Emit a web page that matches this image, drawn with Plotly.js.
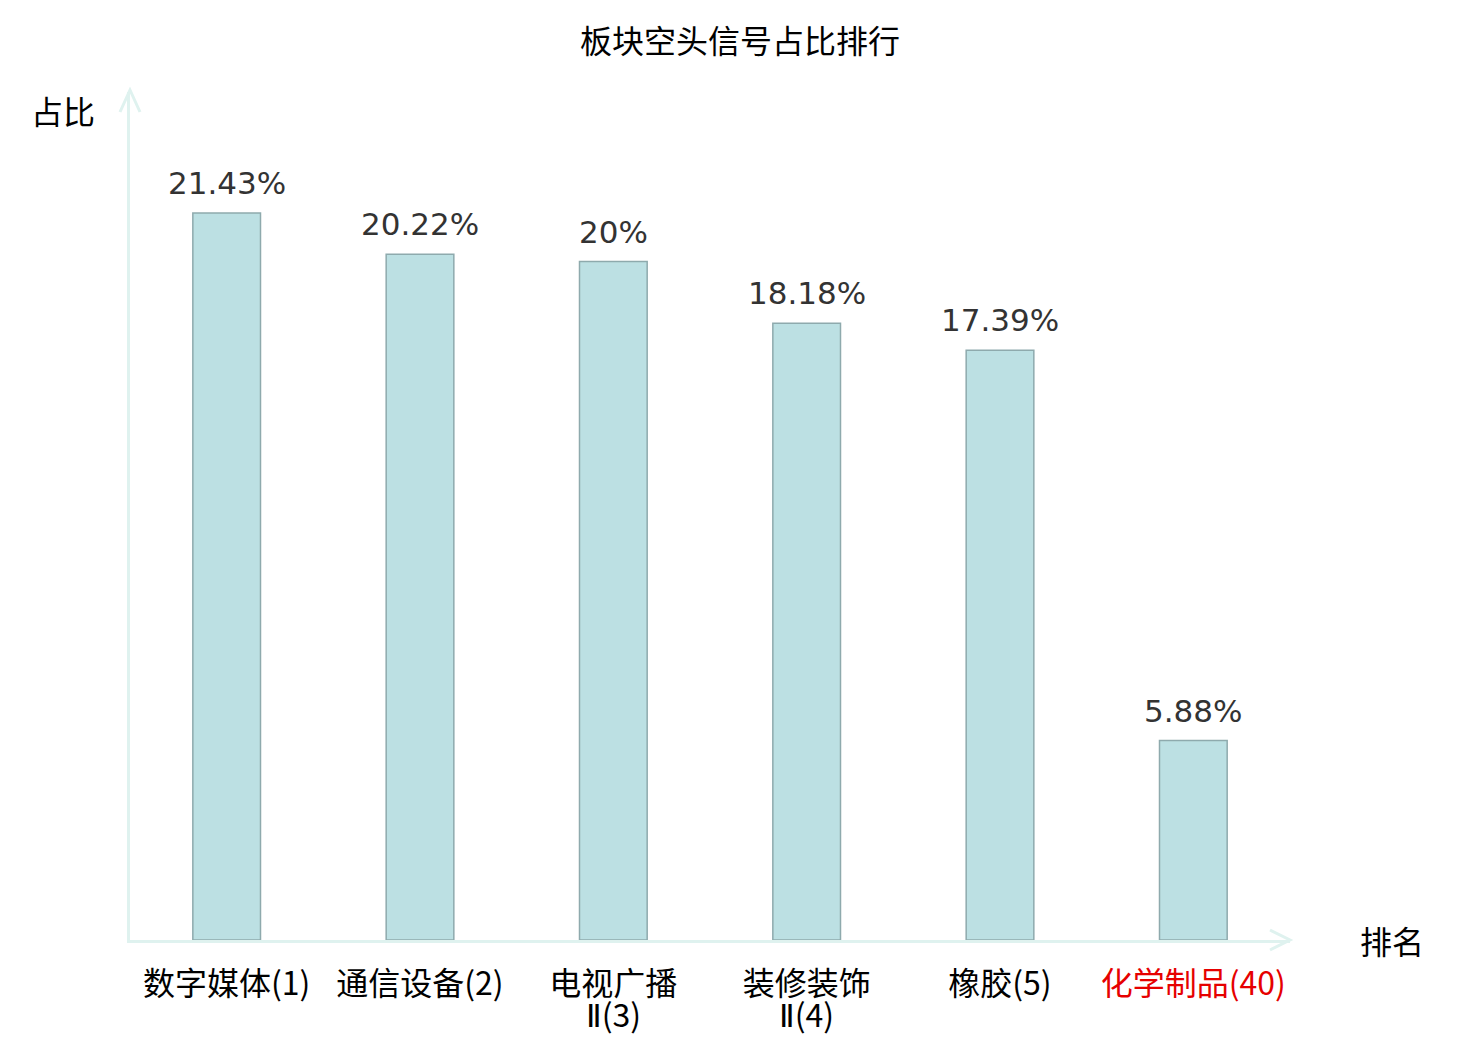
<!DOCTYPE html>
<html>
<head>
<meta charset="utf-8">
<script src="https://cdn.plot.ly/plotly-3.0.1.min.js"></script>
<style>
  html, body { margin: 0; padding: 0; background: #fff; }
  #chart { width: 1480px; height: 1040px; }
</style>
</head>
<body>
<div id="chart"></div>
<script>
const categories = ["数字媒体(1)", "通信设备(2)", "电视广播Ⅱ(3)", "装修装饰Ⅱ(4)", "橡胶(5)", "化学制品(40)"];
// tick labels, first and second line (the reference wraps with a tight line height)
const tickLine1 = ["数字媒体(1)", "通信设备(2)", "电视广播", "装修装饰", "橡胶(5)", "化学制品(40)"];
const tickLine2 = ["", "", "Ⅱ(3)", "Ⅱ(4)", "", ""];
const tickColors = ["#000000", "#000000", "#000000", "#000000", "#000000", "#e60000"];
const shares = [21.43, 20.22, 20, 18.18, 17.39, 5.88];

const axisColor = "#dff2ef";
const cjk = "'Noto Sans CJK SC', 'DejaVu Sans', sans-serif";
const latin = "'DejaVu Sans', 'Noto Sans CJK SC', sans-serif";

const trace_bars = {
    type: "bar",
    x: categories,
    y: shares,
    width: 0.35,
    marker: {
        color: "#bce0e3",
        line: { color: "#8eaaad", width: 1.5 },
    },
    hoverinfo: "skip",
};

// value labels above the bars
const valueLabels = categories.map((c, i) => ({
    text: shares[i] + "%",
    xref: "x", yref: "y",
    x: c, y: shares[i],
    xanchor: "center", yanchor: "middle",
    yshift: 30,
    showarrow: false,
    font: { family: latin, size: 31, color: "#333333" },
}));

// second lines of the wrapped tick labels
const secondLines = categories
    .map((c, i) => ({
        text: tickLine2[i].replace("Ⅱ", "<span style='font-family:DejaVu Sans'>Ⅱ</span>"),
        xref: "x", yref: "paper",
        x: c, y: 0,
        xanchor: "center", yanchor: "middle",
        yshift: -73,
        showarrow: false,
        font: { family: cjk, size: 32, color: tickColors[i] },
    }))
    .filter((a, i) => tickLine2[i] !== "");

const layout = {
    width: 1480,
    height: 1040,
    margin: { l: 130, r: 190, t: 92, b: 100 },
    paper_bgcolor: "#ffffff",
    plot_bgcolor: "#ffffff",
    showlegend: false,
    font: { family: cjk, color: "#000000" },
    title: {
        text: "板块空头信号占比排行",
        font: { family: cjk, size: 32, color: "#000000" },
        x: 0.5,
        xanchor: "center",
        y: 1 - 42 / 1040,
        yanchor: "middle",
    },
    xaxis: {
        type: "category",
        range: [-0.5, 5.5],
        tickvals: categories,
        ticktext: tickLine1.map((t, i) => `<span style='color:${tickColors[i]}'>${t}</span>`),
        ticks: "",
        ticklabelstandoff: 14,
        tickfont: { family: cjk, size: 32, color: "#000000" },
        showline: true,
        linecolor: axisColor,
        linewidth: 3,
        showgrid: false,
        zeroline: false,
        fixedrange: true,
    },
    yaxis: {
        range: [0, 25],
        showticklabels: false,
        ticks: "",
        showline: true,
        linecolor: axisColor,
        linewidth: 3,
        showgrid: false,
        zeroline: false,
        fixedrange: true,
    },
    annotations: [
        {
            text: "占比", xref: "paper", yref: "paper",
            x: 0, y: 1, xanchor: "center", yanchor: "middle",
            xshift: -67, yshift: -18,
            showarrow: false,
            font: { family: cjk, size: 32, color: "#000000" },
        },
        {
            text: "排名", xref: "paper", yref: "paper",
            x: 1, y: 0, xanchor: "center", yanchor: "middle",
            xshift: 102, yshift: 0,
            showarrow: false,
            font: { family: cjk, size: 32, color: "#000000" },
        },
        ...valueLabels,
        ...secondLines,
    ],
    shapes: [
        {
            type: "path", xref: "paper", yref: "paper",
            xsizemode: "pixel", ysizemode: "pixel",
            xanchor: 0, yanchor: 1,
            path: "M-10,-20 L0,2 L10,-20",
            line: { color: axisColor, width: 3 },
        },
        {
            type: "path", xref: "paper", yref: "paper",
            xsizemode: "pixel", ysizemode: "pixel",
            xanchor: 1, yanchor: 0,
            path: "M-20,10 L0,0 L-20,-10",
            line: { color: axisColor, width: 3 },
        },
    ],
};

const config = { responsive: false, displayModeBar: false, staticPlot: true };
Plotly.newPlot("chart", [trace_bars], layout, config);
</script>
</body>
</html>
